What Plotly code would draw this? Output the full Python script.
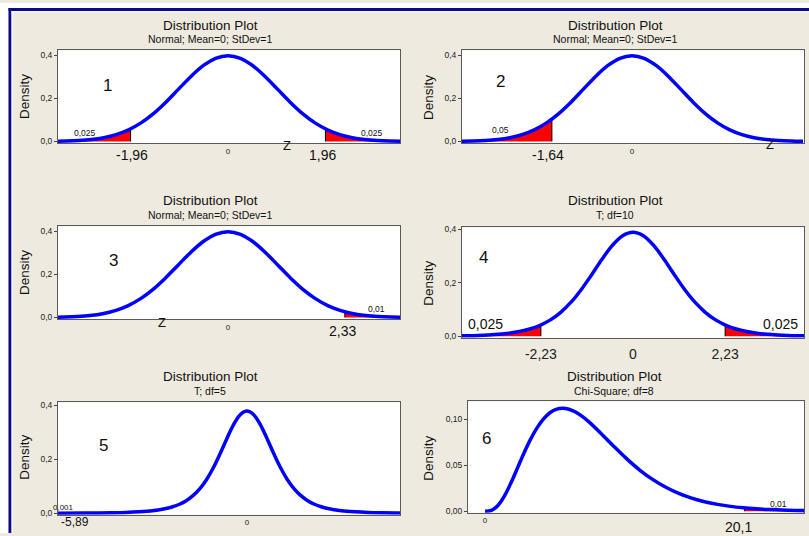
import plotly.graph_objects as go

W, H = 809, 536

# ---------------- data ----------------
normal_x = [-3.5, -3.25, -3.0, -2.75, -2.5, -2.25, -2.0, -1.75, -1.5, -1.25, -1.0, -0.75, -0.5, -0.25, 0.0,
            0.25, 0.5, 0.75, 1.0, 1.25, 1.5, 1.75, 2.0, 2.25, 2.5, 2.75, 3.0, 3.25, 3.5]
normal_y = [0.0009, 0.0020, 0.0044, 0.0091, 0.0175, 0.0317, 0.0540, 0.0863, 0.1295, 0.1826, 0.2420, 0.3011, 0.3521, 0.3867, 0.3989,
            0.3867, 0.3521, 0.3011, 0.2420, 0.1826, 0.1295, 0.0863, 0.0540, 0.0317, 0.0175, 0.0091, 0.0044, 0.0020, 0.0009]

t10_x = [-4.25, -4.0, -3.75, -3.5, -3.25, -3.0, -2.75, -2.5, -2.25, -2.0, -1.75, -1.5, -1.25, -1.0, -0.75, -0.5, -0.25, 0.0,
         0.25, 0.5, 0.75, 1.0, 1.25, 1.5, 1.75, 2.0, 2.25, 2.5, 2.75, 3.0, 3.25, 3.5, 3.75, 4.0, 4.25]
t10_y = [0.0013, 0.0020, 0.0031, 0.0048, 0.0074, 0.0114, 0.0176, 0.0269, 0.0409, 0.0611, 0.0895, 0.1274, 0.1751, 0.2304, 0.2880, 0.3397, 0.3760, 0.3891,
         0.3760, 0.3397, 0.2880, 0.2304, 0.1751, 0.1274, 0.0895, 0.0611, 0.0409, 0.0269, 0.0176, 0.0114, 0.0074, 0.0048, 0.0031, 0.0020, 0.0013]

t5_x = [-7.0, -6.0, -5.5, -5.0, -4.5, -4.0, -3.5, -3.0, -2.75, -2.5, -2.25, -2.0, -1.75, -1.5, -1.25, -1.0, -0.75, -0.5, -0.25, 0.0,
        0.25, 0.5, 0.75, 1.0, 1.25, 1.5, 1.75, 2.0, 2.25, 2.5, 2.75, 3.0, 3.5, 4.0, 4.5, 5.0, 5.5, 6.0]
t5_y = [0.0003, 0.0007, 0.0011, 0.0018, 0.0029, 0.0051, 0.0092, 0.0173, 0.0239, 0.0333, 0.0466, 0.0651, 0.0905, 0.1245, 0.1679, 0.2197, 0.2757, 0.3279, 0.3657, 0.3796,
        0.3657, 0.3279, 0.2757, 0.2197, 0.1679, 0.1245, 0.0905, 0.0651, 0.0466, 0.0333, 0.0239, 0.0173, 0.0092, 0.0051, 0.0029, 0.0018, 0.0011, 0.0007]

chi8_x = [0, 0.5, 1, 1.5, 2, 2.5, 3, 3.5, 4, 4.5, 5, 5.5, 6, 6.5, 7, 7.5, 8, 9, 10, 11, 12, 13, 14, 15, 16,
          17, 18, 19, 20, 21, 22, 23, 24, 25]
chi8_y = [0.0, 0.0010, 0.0063, 0.0166, 0.0307, 0.0466, 0.0628, 0.0776, 0.0902, 0.1000, 0.1069, 0.1108, 0.1120, 0.1109, 0.1079, 0.1034, 0.0977, 0.0844, 0.0702, 0.0567, 0.0446, 0.0344, 0.0261, 0.0194, 0.0143,
          0.0104, 0.0075, 0.0053, 0.0038, 0.0027, 0.0019, 0.0013, 0.0009, 0.0006]

# critical values, the curve height there, and which tail is shaded
p1_crit = [-1.96, 1.96];  p1_crit_y = [0.0584, 0.0584]; p1_side = ["left", "right"]
p2_crit = [-1.64];        p2_crit_y = [0.1040];         p2_side = ["left"]
p3_crit = [2.33];         p3_crit_y = [0.0264];         p3_side = ["right"]
p4_crit = [-2.23, 2.23];  p4_crit_y = [0.0423, 0.0423]; p4_side = ["left", "right"]
p5_crit = [-5.89];        p5_crit_y = [0.0008];         p5_side = ["left"]
p6_crit = [20.1];         p6_crit_y = [0.0037];         p6_side = ["right"]

subtitles = ["Normal; Mean=0; StDev=1", "Normal; Mean=0; StDev=1", "Normal; Mean=0; StDev=1",
             "T; df=10", "T; df=5", "Chi-Square; df=8"]

y_ticks_std = [0.0, 0.2, 0.4]
y_ticklabels_std = ["0,0", "0,2", "0,4"]
y_ticks_chi = [0.0, 0.05, 0.10]
y_ticklabels_chi = ["0,00", "0,05", "0,10"]

p4_xticks = [-2.23, 0, 2.23]
p4_xticklabels = ["-2,23", "0", "2,23"]

# ---------------- layout of panels (pixels) ----------------
FONT = "Liberation Sans"
BG = "#EEEADF"
BLUE = "#0000FF"

panels = [
    dict(curve=(normal_x, normal_y), crit=(p1_crit, p1_crit_y, p1_side), box=(58, 400, 48, 141.5),
         xr=[-3.42, 3.46], yr=[-0.0069, 0.423], yt=(y_ticks_std, y_ticklabels_std), title_c=(210, 23, 36), dens=(25, 95)),
    dict(curve=(normal_x, normal_y), crit=(p2_crit, p2_crit_y, p2_side), box=(462, 804, 48, 141.5),
         xr=[-3.48, 3.52], yr=[-0.0069, 0.423], yt=(y_ticks_std, y_ticklabels_std), title_c=(615, 23, 36), dens=(429, 95)),
    dict(curve=(normal_x, normal_y), crit=(p3_crit, p3_crit_y, p3_side), box=(58, 400, 226, 319.5),
         xr=[-3.39, 3.43], yr=[-0.0069, 0.423], yt=(y_ticks_std, y_ticklabels_std), title_c=(210, 200, 214), dens=(25, 273)),
    dict(curve=(t10_x, t10_y), crit=(p4_crit, p4_crit_y, p4_side), box=(462, 804, 227, 338.5),
         xr=[-4.14, 4.14], yr=[-0.0056, 0.407], yt=(y_ticks_std, y_ticklabels_std), title_c=(615, 200, 214), dens=(429, 283)),
    dict(curve=(t5_x, t5_y), crit=(p5_crit, p5_crit_y, p5_side), box=(58, 400, 404, 517.5),
         xr=[-7.0, 5.67], yr=[-0.0055, 0.411], yt=(y_ticks_std, y_ticklabels_std), title_c=(210, 378, 392), dens=(25, 460)),
    dict(curve=(chi8_x, chi8_y), crit=(p6_crit, p6_crit_y, p6_side), box=(468, 804, 403, 515.5),
         xr=[-1.32, 24.7], yr=[-0.0016, 0.1194], yt=(y_ticks_chi, y_ticklabels_chi), title_c=(614, 378, 392), dens=(429, 460)),
]

# labels inside each panel: (text, x data, y data, size)
inner_labels = [
    [("1", -2.43, 0.262, 17), ("0,025", -2.88, 0.041, 8.5), ("0,025", 2.90, 0.041, 8.5)],
    [("2", -2.70, 0.280, 17), ("0,05", -2.70, 0.055, 8.5)],
    [("3", -2.29, 0.267, 17), ("0,01", 2.97, 0.037, 8.5)],
    [("4", -3.61, 0.296, 17), ("0,025", -3.56, 0.044, 14), ("0,025", 3.56, 0.044, 14)],
    [("5", -5.33, 0.253, 17), ("0,001", -6.78, 0.021, 8)],
    [("6", 0.15, 0.0796, 17), ("0,01", 22.69, 0.0075, 8.5)],
]
# labels under the axis: (text, x data, y pixel from top, size)
below_labels = [
    [("Z", 1.19, 144, 13), ("-1,96", -1.93, 154, 14), ("1,96", 1.91, 154, 14)],
    [("-1,64", -1.72, 154, 14), ("Z", 2.83, 143, 13)],
    [("Z", -1.32, 323, 13), ("2,33", 2.29, 332, 14)],
    [],
    [("-5,89", -6.37, 525, 12)],
    [("20,1", 19.59, 530, 14)],
]

fig = go.Figure()
annotations = []


def px_x(p):
    return p / W


def px_y(p):
    return 1 - p / H


for i, p in enumerate(panels):
    n = i + 1
    xa = "x" if n == 1 else f"x{n}"
    ya = "y" if n == 1 else f"y{n}"
    cx, cy = p["curve"]
    crits, crit_ys, sides = p["crit"]

    # shaded tails
    for c, yc, side in zip(crits, crit_ys, sides):
        if side == "left":
            pts = [(x, y) for x, y in zip(cx, cy) if x < c]
            xs = [pts[0][0]] + [q[0] for q in pts] + [c, c]
            ys = [0] + [q[1] for q in pts] + [yc, 0]
        else:
            pts = [(x, y) for x, y in zip(cx, cy) if x > c]
            xs = [c, c] + [q[0] for q in pts] + [pts[-1][0]]
            ys = [0, yc] + [q[1] for q in pts] + [0]
        fig.add_trace(go.Scatter(x=xs, y=ys, xaxis=xa, yaxis=ya, mode="lines", fill="toself",
                                 fillcolor="#FF0000", line=dict(color="#000000", width=1),
                                 hoverinfo="skip", showlegend=False))

    # density curve
    fig.add_trace(go.Scatter(x=cx, y=cy, xaxis=xa, yaxis=ya, mode="lines",
                             line=dict(color=BLUE, width=3.5, shape="spline"),
                             showlegend=False))

    L, R, T, B = p["box"]
    small_x = n != 4
    xaxis = dict(domain=[px_x(L), px_x(R)], range=p["xr"], anchor=ya,
                 showgrid=False, zeroline=False, showline=True, mirror=True,
                 linecolor="#5a5a5a", linewidth=1, ticks="",
                 tickmode="array",
                 tickvals=[0] if small_x else p4_xticks,
                 ticktext=["0"] if small_x else p4_xticklabels,
                 ticklabelstandoff=0 if small_x else 3,
                 tickfont=dict(family=FONT, size=8 if small_x else 14, color="#222222"),
                 fixedrange=True)
    yt, ytl = p["yt"]
    yaxis = dict(domain=[px_y(B), px_y(T)], range=p["yr"], anchor=xa,
                 showgrid=False, zeroline=False, showline=True, mirror=True,
                 linecolor="#5a5a5a", linewidth=1, ticks="outside", ticklen=3,
                 tickcolor="#444444", tickmode="array", tickvals=yt, ticktext=ytl,
                 tickfont=dict(family=FONT, size=8.5, color="#222222"), fixedrange=True)
    fig.layout["xaxis" if n == 1 else f"xaxis{n}"] = xaxis
    fig.layout["yaxis" if n == 1 else f"yaxis{n}"] = yaxis

    # titles
    tx, ty1, ty2 = p["title_c"]
    common = dict(xref="paper", yref="paper", showarrow=False, xanchor="center", yanchor="middle")
    annotations.append(dict(text="Distribution Plot", x=px_x(tx), y=px_y(ty1),
                            font=dict(family=FONT, size=13.5, color="#111111"), **common))
    annotations.append(dict(text=subtitles[i], x=px_x(tx), y=px_y(ty2),
                            font=dict(family=FONT, size=10.5, color="#111111"), **common))
    dx, dy = p["dens"]
    annotations.append(dict(text="Density", x=px_x(dx), y=px_y(dy), textangle=-90,
                            font=dict(family=FONT, size=13.5, color="#111111"), **common))

    for text, x, y, size in inner_labels[i]:
        annotations.append(dict(text=text, x=x, y=y, xref=xa, yref=ya, showarrow=False,
                                xanchor="center", yanchor="middle",
                                font=dict(family=FONT, size=size, color="#111111")))
    for text, x, ypx, size in below_labels[i]:
        annotations.append(dict(text=text, x=x, y=px_y(ypx), xref=xa, yref="paper", showarrow=False,
                                xanchor="center", yanchor="middle",
                                font=dict(family=FONT, size=size, color="#111111")))

shapes = [
    # white strips outside the navy frame
    dict(type="rect", xref="paper", yref="paper", x0=0, x1=px_x(8.5), y0=0, y1=1,
         fillcolor="#FFFFFF", line=dict(width=0), layer="above"),
    dict(type="rect", xref="paper", yref="paper", x0=0, x1=1, y0=px_y(5), y1=1,
         fillcolor="#FFFFFF", line=dict(width=0), layer="above"),
    # navy frame lines
    dict(type="line", xref="paper", yref="paper", x0=px_x(10), x1=px_x(10), y0=0, y1=px_y(5),
         line=dict(color="#0A0A8C", width=3), layer="above"),
    dict(type="line", xref="paper", yref="paper", x0=px_x(8.5), x1=1, y0=px_y(6.5), y1=px_y(6.5),
         line=dict(color="#0A0A8C", width=3), layer="above"),
    # light inner band
    dict(type="line", xref="paper", yref="paper", x0=px_x(12.3), x1=px_x(12.3), y0=0, y1=px_y(8),
         line=dict(color="#F8F6F0", width=1.5), layer="above"),
    dict(type="line", xref="paper", yref="paper", x0=px_x(11.5), x1=1, y0=px_y(8.8), y1=px_y(8.8),
         line=dict(color="#F8F6F0", width=1.5), layer="above"),
]

fig.update_layout(width=W, height=H, margin=dict(l=0, r=0, t=0, b=0),
                  paper_bgcolor=BG, plot_bgcolor="#FFFFFF",
                  annotations=annotations, shapes=shapes, showlegend=False,
                  font=dict(family=FONT))

fig.write_html("out.html", config={"displayModeBar": False},
               post_script="document.body.style.margin='0px';document.body.style.overflow='hidden';")
